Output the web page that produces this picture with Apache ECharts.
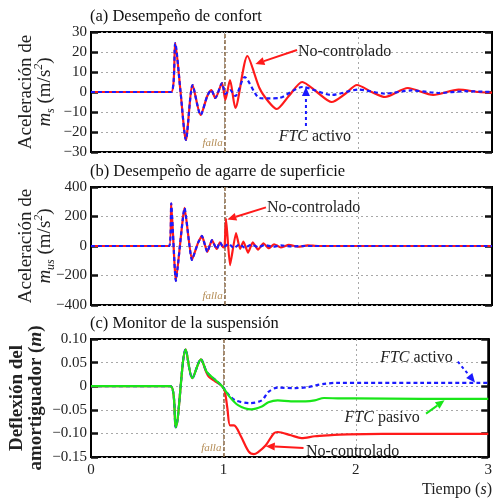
<!DOCTYPE html>
<html><head><meta charset="utf-8">
<script src="https://cdn.jsdelivr.net/npm/echarts@6/dist/echarts.min.js"></script>
<style>html,body{margin:0;padding:0;background:#fff}#c{width:495px;height:502px}</style>
</head><body><div id="c"></div>
<script>
// (a) sprung-mass acceleration, m/s^2
const tComfortUnc = [0, 0.60, 0.63, 0.67, 0.71, 0.76, 0.82, 0.87, 0.90, 0.93, 0.98, 1.005, 1.04, 1.08, 1.17, 1.26, 1.33, 1.39, 1.48, 1.58, 1.69, 1.80, 1.90, 1.99, 2.10, 2.20, 2.37, 2.56, 2.75, 2.90, 3.00];
const comfortUnc  = [0, 0, 24.5, 0, -24, 3.5, -11.5, -2, 1, -3, 4.5, -4, 6, -8, 18, 2, -5, -8.5, -2, 5, 0, -5, -1, 3.5, 0, -2.5, 2, -1.5, 1.2, 0, -0.3];
const tComfortAct = [0, 0.60, 0.63, 0.67, 0.71, 0.76, 0.82, 0.87, 0.90, 0.93, 0.98, 1.005, 1.04, 1.08, 1.15, 1.26, 1.34, 1.41, 1.58, 1.80, 2.00, 2.20, 2.40, 2.60, 2.80, 3.00];
const comfortAct  = [0, 0, 24.5, 0, -24, 3.5, -11.5, -2, 1, -3, 4.5, -1, 1, -2, 7.5, -3, -3.2, -3, 2.5, -1.5, 1.2, -0.8, 0.8, -0.5, 0.4, 0];

// (b) unsprung-mass acceleration, m/s^2
const tGripUnc = [0, 0.585, 0.60, 0.635, 0.70, 0.755, 0.80, 0.83, 0.87, 0.905, 0.94, 0.965, 0.99, 1.0, 1.01, 1.04, 1.085, 1.115, 1.14, 1.175, 1.21, 1.25, 1.29, 1.33, 1.37, 1.42, 1.48, 1.55, 1.62, 1.70, 3.0];
const gripUnc  = [0, 0, 290, -237, 258, -95, 20, 68, -40, 40, -20, 25, -10, 0, 185, -130, 88, -20, 30, -45, 25, -25, 18, -15, 12, -10, 8, -5, 4, 0, 0];
const tGripAct = [0, 0.585, 0.60, 0.635, 0.70, 0.755, 0.80, 0.83, 0.87, 0.905, 0.94, 0.965, 0.99, 1.03, 1.07, 1.11, 1.15, 1.20, 1.25, 1.30, 1.36, 1.42, 1.50, 1.60, 3.0];
const gripAct  = [0, 0, 290, -237, 258, -95, 20, 68, -40, 40, -20, 25, -10, 15, -15, 12, -12, 10, -8, 6, -5, 4, -3, 0, 0];

// (c) damper deflection, m
const tDefUnc = [0, 0.60, 0.64, 0.715, 0.765, 0.83, 0.87, 0.89, 0.94, 0.99, 1.01, 1.03, 1.05, 1.08, 1.13, 1.19, 1.23, 1.26, 1.32, 1.38, 1.41, 1.51, 1.59, 1.69, 1.79, 1.94, 2.2, 2.6, 3.0];
const defUnc  = [0, 0, -0.087, 0.078, 0.017, 0.057, 0.030, 0.020, 0.010, 0.0, -0.01, -0.047, -0.083, -0.083, -0.105, -0.138, -0.144, -0.14, -0.125, -0.1, -0.097, -0.104, -0.11, -0.106, -0.104, -0.102, -0.101, -0.101, -0.101];
const tDefAct = [0, 0.60, 0.64, 0.715, 0.765, 0.83, 0.87, 0.89, 0.94, 0.99, 1.04, 1.09, 1.20, 1.29, 1.34, 1.41, 1.54, 1.64, 1.70, 1.76, 1.85, 2.5, 3.0];
const defAct  = [0, 0, -0.087, 0.078, 0.017, 0.057, 0.032, 0.025, 0.013, 0.0, -0.018, -0.03, -0.036, -0.03, -0.012, -0.003, -0.004, -0.002, 0.002, 0.005, 0.007, 0.007, 0.007];
const tDefPas = [0, 0.60, 0.64, 0.715, 0.765, 0.83, 0.87, 0.89, 0.94, 0.99, 1.04, 1.11, 1.21, 1.29, 1.34, 1.41, 1.51, 1.62, 1.69, 1.76, 1.89, 2.0, 2.5, 3.0];
const defPas  = [0, 0, -0.087, 0.078, 0.017, 0.057, 0.032, 0.025, 0.013, 0.0, -0.02, -0.04, -0.049, -0.043, -0.034, -0.03, -0.032, -0.032, -0.03, -0.025, -0.026, -0.026, -0.027, -0.027];

const panelTitles = ['(a) Desempeño de confort', '(b) Desempeño de agarre de superficie', '(c) Monitor de la suspensión'];
const xTicks = [0, 1, 2, 3];
const faultTime = 1;

const zip = (t, v) => t.map((x, i) => [x, v[i]]);
const SERIF = '"Liberation Serif", "Times New Roman", serif';
const RED = '#ff1a1a', BLUE = '#1a1aff', GREEN = '#19e619';
const GRIDLINE = { color: '#a8a8a8', type: [2, 3], width: 1 };

const grids = [
  { left: 91, top: 32, width: 401, height: 120 },
  { left: 91, top: 187, width: 401, height: 118 },
  { left: 91, top: 339, width: 401, height: 118 }
];
const yRanges = [
  { min: -30, max: 30, interval: 10, fmt: v => String(v).replace('-', '−') },
  { min: -400, max: 400, interval: 200, fmt: v => String(v).replace('-', '−') },
  { min: -0.15, max: 0.10, interval: 0.05, fmt: v => Math.abs(v) < 1e-9 ? '0' : v.toFixed(2).replace('-', '−') }
];

const option = {
  animation: false,
  backgroundColor: '#fff',
  grid: grids.map(g => Object.assign({ show: true, borderColor: '#000', borderWidth: 2, backgroundColor: 'transparent' }, g)),
  xAxis: grids.map((g, i) => ({
    type: 'value', gridIndex: i, min: xTicks[0], max: xTicks[xTicks.length - 1], interval: 1,
    axisLine: { show: false },
    axisTick: { show: false },
    axisLabel: { show: i === 2, color: '#222', fontFamily: SERIF, fontSize: 15, margin: 6 },
    splitLine: { show: true, lineStyle: GRIDLINE }
  })),
  yAxis: [
    ...yRanges.map((r, i) => ({
      type: 'value', gridIndex: i, min: r.min, max: r.max, interval: r.interval,
      axisLine: { show: true, lineStyle: { color: '#000', width: 2 } },
      axisTick: { show: true, inside: true, length: 7, lineStyle: { color: '#111', width: 2.5 } },
      axisLabel: { color: '#222', fontFamily: SERIF, fontSize: 15, margin: 4, formatter: r.fmt },
      splitLine: { show: true, lineStyle: GRIDLINE }
    })),
    ...yRanges.map((r, i) => ({
      type: 'value', gridIndex: i, position: 'right', min: r.min, max: r.max, interval: r.interval,
      axisLine: { show: true, lineStyle: { color: '#000', width: 2 } },
      axisTick: { show: true, inside: true, length: 7, lineStyle: { color: '#111', width: 2.5 } },
      axisLabel: { show: false }, splitLine: { show: false }
    }))
  ],
  series: [
    line(0, zip(tComfortUnc, comfortUnc), RED, 'solid', 0.25, true),
    line(0, zip(tComfortAct, comfortAct), BLUE, [4, 3], 0.25),
    line(1, zip(tGripUnc, gripUnc), RED, 'solid', 0.15, true),
    line(1, zip(tGripAct, gripAct), BLUE, [4, 3], 0.15),
    line(2, zip(tDefUnc, defUnc), RED, 'solid', 0.3, true),
    line(2, zip(tDefAct, defAct), BLUE, [4, 3], 0.3),
    line(2, zip(tDefPas, defPas), GREEN, 'solid', 0.3)
  ]
};

function line(g, data, color, type, smooth, fault) {
  const s = {
    type: 'line', xAxisIndex: g, yAxisIndex: g, data, smooth, showSymbol: false, symbol: 'none',
    lineStyle: { color, width: 2.2, type }, z: 3
  };
  if (fault) {
    s.markLine = {
      silent: true, symbol: 'none', label: { show: false },
      lineStyle: { color: '#8a6a45', type: [4, 2], width: 1.5 },
      data: [{ xAxis: faultTime }], z: 2
    };
  }
  return s;
}

const chart = echarts.init(document.getElementById('c'), null, { renderer: 'canvas' });
chart.setOption(option);

// annotation texts and arrows, placed in data coordinates of each panel
const firstSeries = [0, 2, 4];
const P = (g, t, v) => chart.convertToPixel({ seriesIndex: firstSeries[g] }, [t, v]);

const notes = [
  { g: 0, text: 'No-controlado', at: [1.548, 20], align: 'left' },
  { g: 0, text: '{i|FTC} activo', at: [1.675, -22.5], align: 'center' },
  { g: 1, text: 'No-controlado', at: [1.316, 258], align: 'left' },
  { g: 2, text: '{i|FTC} activo', at: [2.184, 0.061], align: 'left' },
  { g: 2, text: '{i|FTC} pasivo', at: [1.915, -0.066], align: 'left' },
  { g: 2, text: 'No-controlado', at: [1.623, -0.14], align: 'left' }
];
const arrows = [
  { g: 0, from: [1.541, 21], to: [1.23, 14], color: RED, dash: null },
  { g: 0, from: [1.608, -17], to: [1.608, 2.5], color: BLUE, dash: [3, 3] },
  { g: 1, from: [1.309, 262], to: [1.02, 180], color: RED, dash: null },
  { g: 2, from: [2.77, 0.052], to: [2.9, 0.008], color: BLUE, dash: [3, 3] },
  { g: 2, from: [2.53, -0.058], to: [2.67, -0.03], color: GREEN, dash: null },
  { g: 2, from: [1.605, -0.131], to: [1.32, -0.127], color: RED, dash: null }
];

const graphics = [];
panelTitles.forEach((txt, i) => {
  graphics.push({ type: 'text', x: 90, y: grids[i].top - 15, style: {
    text: txt, font: '16.5px ' + SERIF, fill: '#111', align: 'left', verticalAlign: 'middle' } });
});
notes.forEach(n => {
  const p = P(n.g, n.at[0], n.at[1]);
  graphics.push({ type: 'text', x: p[0], y: p[1], z: 10, style: {
    text: n.text, font: '16px ' + SERIF, fill: '#222', align: n.align, verticalAlign: 'middle',
    rich: { i: { fontStyle: 'italic', fontSize: 16, fontFamily: SERIF, fill: '#222' } } } });
});
arrows.forEach(a => {
  const p0 = P(a.g, a.from[0], a.from[1]);
  const p1 = P(a.g, a.to[0], a.to[1]);
  const ang = Math.atan2(p1[1] - p0[1], p1[0] - p0[0]);
  const L = 9, W = 4;
  const bx = p1[0] - L * Math.cos(ang), by = p1[1] - L * Math.sin(ang);
  const nx = -Math.sin(ang) * W, ny = Math.cos(ang) * W;
  graphics.push({ type: 'line', z: 10, shape: { x1: p0[0], y1: p0[1], x2: bx, y2: by },
    style: { stroke: a.color, lineWidth: 2, lineDash: a.dash } });
  graphics.push({ type: 'polygon', z: 10, shape: { points: [[p1[0], p1[1]], [bx + nx, by + ny], [bx - nx, by - ny]] },
    style: { fill: a.color } });
});
// fault tag next to the fault line
[0, 1, 2].forEach(g => {
  const p = P(g, faultTime, 0);
  graphics.push({ type: 'text', x: p[0] - 2, y: grids[g].top + grids[g].height - 9, z: 10, style: {
    text: 'falla', font: 'italic 11px ' + SERIF, fill: '#b48c55', align: 'right', verticalAlign: 'middle' } });
});
// axis names
const yNames = [
  { lines: ['Aceleración de', '{m|m}{sub|s} (m/s{sup|2})'], bold: false },
  { lines: ['Aceleración de', '{m|m}{sub|us} (m/s{sup|2})'], bold: false },
  { lines: ['Deflexión del', 'amortiguador ({m|m})'], bold: true }
];
const NAME_SIZE = 19;
const rich = {
  m: { fontStyle: 'italic', fontSize: NAME_SIZE, fontFamily: SERIF, fill: '#222' },
  sub: { fontStyle: 'italic', fontSize: 12, fontFamily: SERIF, fill: '#222', verticalAlign: 'bottom', lineHeight: 24 },
  sup: { fontStyle: 'italic', fontSize: 12, fontFamily: SERIF, fill: '#222', verticalAlign: 'top', lineHeight: 24 }
};
yNames.forEach((n, g) => {
  const cy = grids[g].top + grids[g].height / 2;
  const xs = n.bold ? [17, 36] : [26, 45];
  n.lines.forEach((ln, k) => {
    graphics.push({ type: 'text', x: xs[k], y: cy, rotation: Math.PI / 2, z: 10, style: {
      text: ln, font: (n.bold ? 'bold ' : '') + NAME_SIZE + 'px ' + SERIF, fill: '#222', align: 'center', verticalAlign: 'middle',
      rich: n.bold ? { m: Object.assign({}, rich.m, { fontWeight: 'bold' }) } : rich } });
  });
});
graphics.push({ type: 'text', x: 492, y: 490, z: 10, style: {
  text: 'Tiempo ({i|s})', font: '16px ' + SERIF, fill: '#222', align: 'right', verticalAlign: 'middle',
  rich: { i: { fontStyle: 'italic', fontSize: 16, fontFamily: SERIF, fill: '#222' } } } });

chart.setOption({ graphic: { elements: graphics } });
</script>
</body></html>
